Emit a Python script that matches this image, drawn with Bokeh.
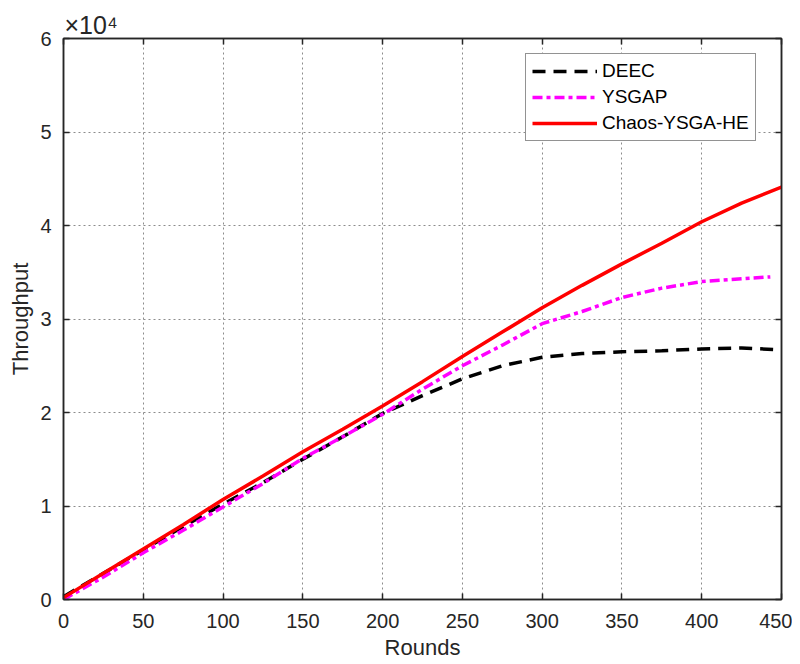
from bokeh.plotting import figure
from bokeh.models import Legend, LegendItem, LinearAxis, Title, FixedTicker, Range1d
from bokeh.embed import file_html
from bokeh.resources import INLINE

# Data (throughput in units of 1e4)
deec_x = [0, 25, 50, 75, 100, 125, 150, 175, 200, 225, 250, 275, 300, 325, 350, 375, 400, 425, 450]
deec_y = [0.03, 0.28, 0.53, 0.78, 1.02, 1.25, 1.50, 1.74, 1.99, 2.18, 2.36, 2.50, 2.59, 2.63, 2.65, 2.66, 2.68, 2.69, 2.67]

ysgap_x = [0, 25, 50, 75, 100, 125, 150, 175, 200, 225, 250, 275, 300, 325, 350, 375, 400, 425, 443]
ysgap_y = [0.0, 0.24, 0.50, 0.74, 0.99, 1.24, 1.51, 1.74, 1.98, 2.25, 2.50, 2.72, 2.95, 3.08, 3.23, 3.33, 3.40, 3.43, 3.45]

chaos_x = [0, 25, 50, 75, 100, 125, 150, 175, 200, 225, 250, 275, 300, 325, 350, 375, 400, 425, 450]
chaos_y = [0.02, 0.28, 0.54, 0.80, 1.07, 1.32, 1.58, 1.82, 2.07, 2.33, 2.60, 2.86, 3.12, 3.36, 3.59, 3.81, 4.04, 4.24, 4.41]

x_ticks = [0, 50, 100, 150, 200, 250, 300, 350, 400, 450]
y_ticks = [0, 1, 2, 3, 4, 5, 6]

FONT = "Liberation Sans"
AX = "#262626"

p = figure(width=792, height=664, output_backend="svg", toolbar_location=None,
           x_range=Range1d(0, 450), y_range=Range1d(0, 6),
           min_border_left=63, min_border_right=11, min_border_top=38, min_border_bottom=65)

p.background_fill_color = "white"
p.border_fill_color = "white"
p.outline_line_color = AX
p.outline_line_width = 1.5

for ax in (p.xaxis[0], p.yaxis[0]):
    ax.major_tick_in = 6
    ax.major_tick_out = 0
    ax.minor_tick_line_color = None
    ax.axis_line_color = AX
    ax.axis_line_width = 1.5
    ax.major_tick_line_color = AX
    ax.major_tick_line_width = 1.5
    ax.major_label_text_font = FONT
    ax.major_label_text_font_size = "20px"
    ax.major_label_text_color = AX
    ax.axis_label_text_font = FONT
    ax.axis_label_text_font_size = "22px"
    ax.axis_label_text_font_style = "normal"
    ax.axis_label_text_color = AX

p.xaxis.ticker = FixedTicker(ticks=x_ticks)
p.yaxis.ticker = FixedTicker(ticks=y_ticks)
p.xaxis.axis_label = "Rounds"
p.yaxis.axis_label = "Throughput"
p.xaxis.major_label_standoff = 14
p.yaxis.major_label_standoff = 12
p.xaxis.axis_label_standoff = 4
p.yaxis.axis_label_standoff = 4

p.xgrid.ticker = FixedTicker(ticks=x_ticks)
p.ygrid.ticker = FixedTicker(ticks=y_ticks)
for g in (p.xgrid[0], p.ygrid[0]):
    g.grid_line_color = "#8c8c8c"
    g.grid_line_dash = "2 3"
    g.grid_line_width = 1

# Top/right inward ticks (MATLAB box), labels not painted
def box_axis(ticks):
    return LinearAxis(ticker=FixedTicker(ticks=ticks), major_label_text_font_size="1px",
                      major_label_text_color=None, major_tick_in=6, major_tick_out=0,
                      minor_tick_line_color=None, axis_line_color=AX, axis_line_width=1.5,
                      major_tick_line_color=AX, major_tick_line_width=1.5,
                      major_label_standoff=0)

p.add_layout(box_axis(x_ticks), "above")
p.add_layout(box_axis(y_ticks), "right")

# Exponent multiplier as a title above the frame
p.add_layout(Title(text="×10⁴", align="left", offset=1, standoff=0,
                   text_font=FONT, text_font_size="25px", text_font_style="normal",
                   text_color=AX), "above")

r1 = p.line(deec_x, deec_y, line_color="black", line_width=3.5, line_dash="13 8")
r2 = p.line(ysgap_x, ysgap_y, line_color="#ff00ff", line_width=3.5, line_dash="10 4 4 4")
r3 = p.line(chaos_x, chaos_y, line_color="#ff0000", line_width=3.5)

legend = Legend(items=[LegendItem(label="DEEC", renderers=[r1]),
                       LegendItem(label="YSGAP", renderers=[r2]),
                       LegendItem(label="Chaos-YSGA-HE", renderers=[r3])],
                location=(462, 458))
legend.border_line_color = AX
legend.border_line_width = 1
legend.background_fill_color = "white"
legend.background_fill_alpha = 1
legend.label_text_font = FONT
legend.label_text_font_size = "19px"
legend.label_text_color = "black"
legend.glyph_width = 65
legend.glyph_height = 20
legend.label_height = 20
legend.spacing = 4
legend.padding = 6
legend.margin = 0
legend.label_standoff = 5
p.add_layout(legend, "center")

open("out.html", "w").write(file_html(p, INLINE))
